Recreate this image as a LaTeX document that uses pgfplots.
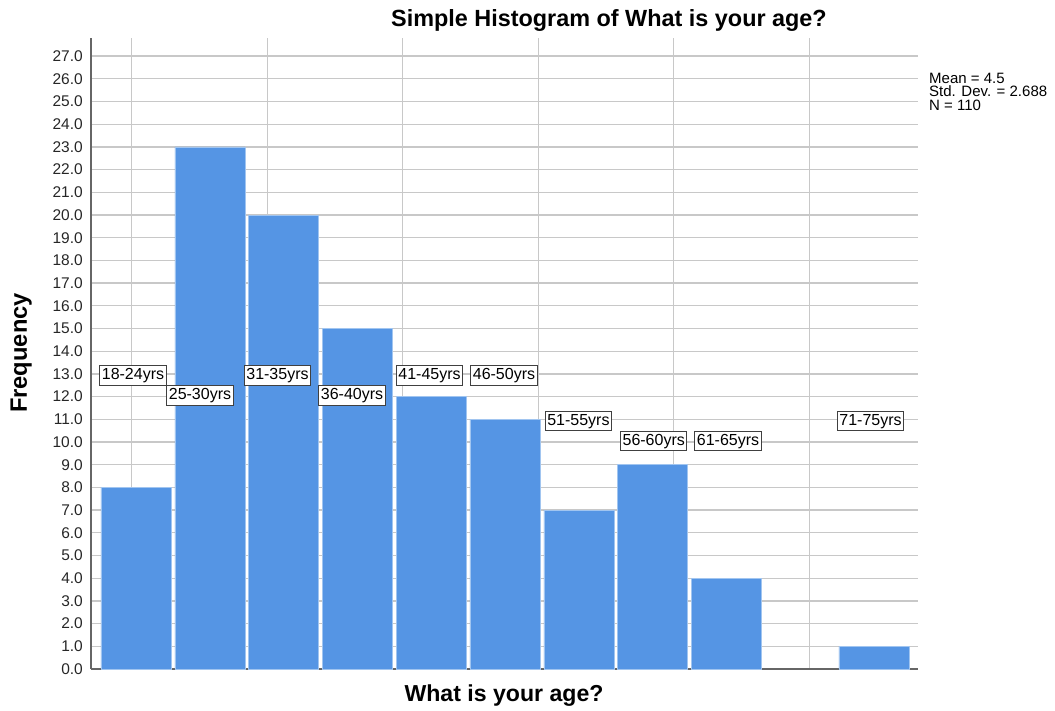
\documentclass[border=0pt]{standalone}
\usepackage{pgfplots}
\pgfplotsset{compat=1.18}
\usepackage{fontspec}
\setmainfont{Liberation Sans}
\definecolor{barblue}{RGB}{85,149,228}
\definecolor{gridgray}{RGB}{200,200,200}
\tikzset{lbl/.style={draw=black!75, fill=white, line width=0.9pt, inner xsep=2pt, inner ysep=2pt,
    text height=11.8pt, text depth=3.6pt, font=\fontsize{16}{16}\selectfont}}
\begin{document}
\begin{tikzpicture}[x=1pt,y=1pt]
\useasboundingbox (-91,-42) rectangle (964,669);
\begin{axis}[
  at={(0,0)}, anchor=south west,
  scale only axis, width=827pt, height=631pt,
  xmin=0.39, xmax=11.596, ymin=0, ymax=27.8,
  axis x line=bottom, axis y line=left,
  axis line style={-, draw=black!60, line width=1.3pt},
  ytick={0,1,...,27},
  yticklabel={\pgfmathprintnumber[fixed,fixed zerofill,precision=1,assume math mode=true]{\tick}},
  yticklabel style={font=\fontsize{15.5}{16}\selectfont, inner sep=0pt, xshift=-8pt, text=black!85},
  xtick={0.942,2.778,4.614,6.45,8.286,10.122},
  xticklabels={},
  major tick length=0pt,
  xmajorgrids, ymajorgrids,
  grid style={gridgray, line width=1.3pt},
  clip=false,
]
\addplot[ybar, bar width=0.95, fill=barblue, draw=barblue!55!white, line width=0.5pt]
  coordinates {(1,8) (2,23) (3,20) (4,15) (5,12) (6,11) (7,7) (8,9) (9,4) (11,1)};
\node[lbl] at (axis cs:0.959,12.93) {18-24yrs};
\node[lbl] at (axis cs:1.867,12.06) {25-30yrs};
\node[lbl] at (axis cs:2.917,12.93) {31-35yrs};
\node[lbl] at (axis cs:3.927,12.06) {36-40yrs};
\node[lbl] at (axis cs:4.977,12.93) {41-45yrs};
\node[lbl] at (axis cs:5.986,12.93) {46-50yrs};
\node[lbl] at (axis cs:6.995,10.93) {51-55yrs};
\node[lbl] at (axis cs:8.015,10.04) {56-60yrs};
\node[lbl] at (axis cs:9.022,10.04) {61-65yrs};
\node[lbl] at (axis cs:10.953,10.93) {71-75yrs};
\end{axis}
\node[anchor=base, font=\fontsize{23.4}{26}\selectfont\bfseries, inner sep=0pt] at (518,642.3) {Simple Histogram of What is your age?};
\node[anchor=base, font=\fontsize{23.1}{26}\selectfont\bfseries, inner sep=0pt] at (413,-32.7) {What is your age?};
\node[anchor=base, rotate=90, font=\fontsize{23.7}{26}\selectfont\bfseries, inner sep=0pt] at (-64,316) {Frequency};
\node[anchor=north west, align=left, inner sep=0pt, font=\fontsize{15}{13.4}\selectfont] at (838,596.3) {Mean = 4.5\\Std. Dev. = 2.688\\N = 110};
\end{tikzpicture}
\end{document}
